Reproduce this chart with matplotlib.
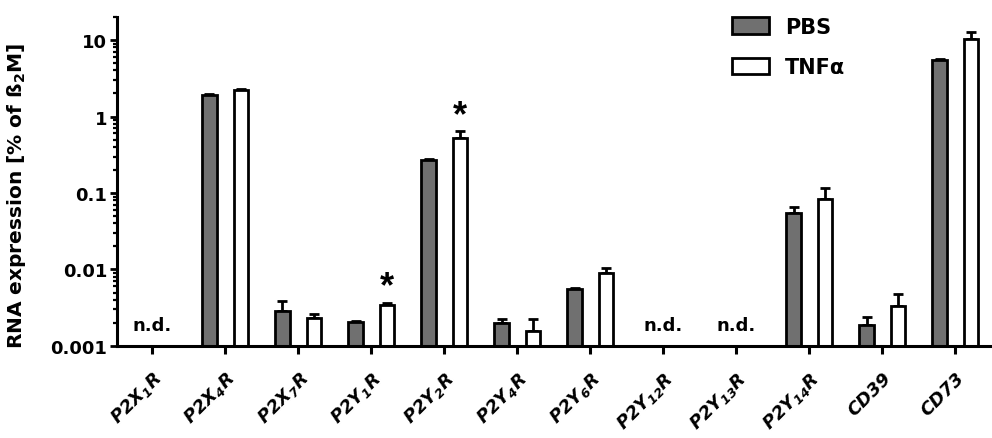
import numpy as np
import matplotlib
matplotlib.use('Agg')
import matplotlib.pyplot as plt

plt.rcParams['font.family'] = ['DejaVu Sans']
plt.rcParams['font.weight'] = 'bold'
plt.rcParams['mathtext.default'] = 'regular'

# datos (nan = n.d.)
genes = ['P2X$_1$R', 'P2X$_4$R', 'P2X$_7$R', 'P2Y$_1$R', 'P2Y$_2$R', 'P2Y$_4$R',
         'P2Y$_6$R', 'P2Y$_{12}$R', 'P2Y$_{13}$R', 'P2Y$_{14}$R', 'CD39', 'CD73']
pbs = [np.nan, 1.9, 0.0029, 0.00205, 0.27, 0.0020, 0.0056, np.nan, np.nan, 0.054, 0.0019, 5.5]
pbs_err = [np.nan, 0.08, 0.0010, 0.0001, 0.012, 0.00025, 0.0002, np.nan, np.nan, 0.011, 0.0005, 0.15]
tnf = [np.nan, 2.2, 0.0023, 0.0034, 0.53, 0.00158, 0.0091, np.nan, np.nan, 0.083, 0.0033, 10.2]
tnf_err = [np.nan, 0.12, 0.0003, 0.0003, 0.11, 0.0007, 0.0015, np.nan, np.nan, 0.035, 0.0015, 2.4]
nd_idx = [0, 7, 8]
star_idx = [3, 4]

x = np.arange(len(genes))
w = 0.2
off = 0.215

fig = plt.figure(figsize=(9.92, 4.39), dpi=100)
ax = fig.add_axes([0.118, 0.2096, 0.882, 0.7494])

ax.bar(x - off, pbs, w, color='#707070', edgecolor='black', linewidth=2.0, label='PBS', zorder=2)
ax.bar(x + off, tnf, w, color='white', edgecolor='black', linewidth=2.0, label='TNF\u03b1', zorder=2)

z = np.zeros(len(genes))
ax.errorbar(x - off, pbs, yerr=[z, pbs_err], fmt='none', ecolor='black', elinewidth=2.0,
            capsize=3.5, capthick=2.0, zorder=1)
ax.errorbar(x + off, tnf, yerr=[z, tnf_err], fmt='none', ecolor='black', elinewidth=2.0,
            capsize=3.5, capthick=2.0, zorder=1)

for i in nd_idx:
    ax.text(x[i], 0.0019, 'n.d.', ha='center', va='center', fontsize=13, fontweight='bold')

for i in star_idx:
    top = tnf[i] + tnf_err[i]
    ax.text(x[i] + off, top * 0.95, '*', ha='center', va='bottom', fontsize=26,
            fontweight='bold', family='Liberation Sans')

ax.set_yscale('log')
ax.set_ylim(0.001, 20)
ax.set_xlim(-0.48, len(genes) - 0.5)
ax.set_yticks([0.001, 0.01, 0.1, 1, 10])
ax.set_yticklabels(['0.001', '0.01', '0.1', '1', '10'])
ax.set_xticks(x)
ax.set_xticklabels(genes, rotation=45, ha='right', va='top', rotation_mode='anchor',
                   fontsize=13, fontstyle='italic', fontweight='bold')

ax.spines['top'].set_visible(False)
ax.spines['right'].set_visible(False)
ax.spines['left'].set_linewidth(2.2)
ax.spines['bottom'].set_linewidth(2.2)
ax.tick_params(axis='y', which='major', length=5, width=2, labelsize=13, pad=2)
ax.tick_params(axis='y', which='minor', length=3, width=1.6)
ax.tick_params(axis='x', which='major', length=6, width=2.2, pad=10)
ax.tick_params(axis='x', which='minor', length=0)

ax.set_ylabel('RNA expression [% of \u00df$_2$M]', fontsize=14.5, fontweight='bold')
ax.yaxis.set_label_coords(-0.102, 0.46)

ax.legend(loc='upper left', bbox_to_anchor=(0.738, 0.96), bbox_transform=fig.transFigure,
          frameon=False, fontsize=15, handlelength=1.75, handleheight=0.85,
          handletextpad=0.8, labelspacing=1.0, borderpad=0, borderaxespad=0)

fig.savefig('out.png', dpi=100)
